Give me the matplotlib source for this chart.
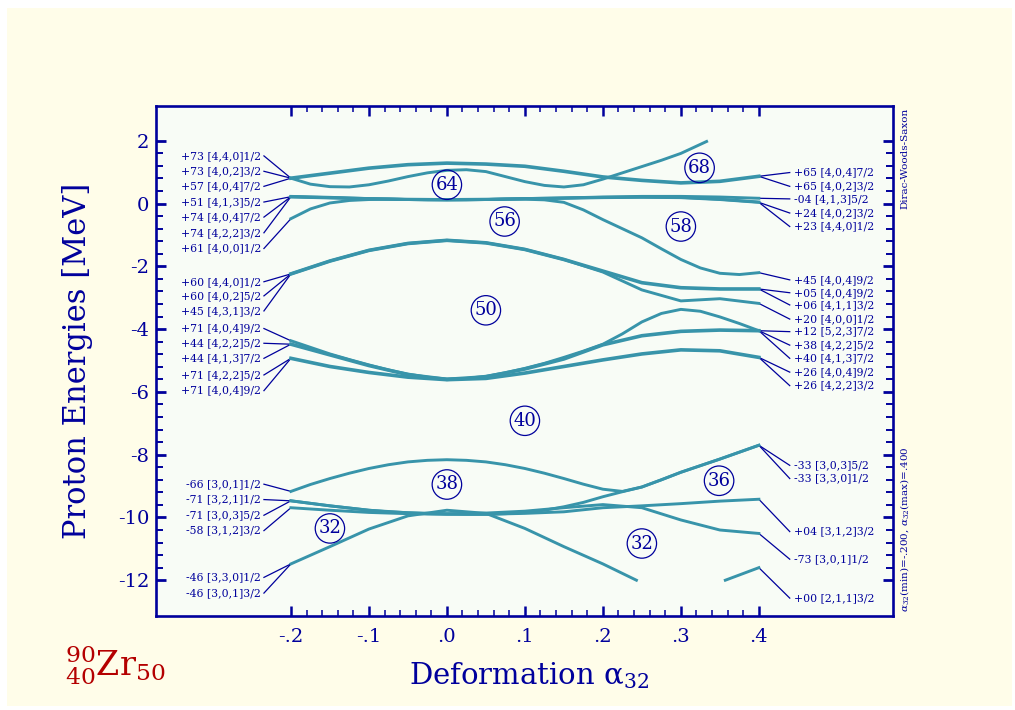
import numpy as np
import matplotlib.pyplot as plt
from matplotlib.patches import Rectangle
from matplotlib.ticker import FixedLocator, FixedFormatter

plt.rcParams['font.family'] = 'DejaVu Serif'
plt.rcParams['mathtext.fontset'] = 'dejavuserif'
plt.rcParams['axes.unicode_minus'] = False

NAVY = '#00009c'
TEAL = '#3894aa'
CREAM = '#fffde9'
PAPER = '#f8fcf6'
RED = '#b40000'

# deformation grids of the tabulated levels
alpha = [-0.2, -0.15, -0.1, -0.05, 0.0, 0.05, 0.1, 0.15, 0.2, 0.25, 0.3, 0.35, 0.4]
alpha_f = [-0.2, -0.175, -0.15, -0.125, -0.1, -0.075, -0.05, -0.025, 0.0, 0.025, 0.05,
           0.075, 0.1, 0.125, 0.15, 0.175, 0.2, 0.225, 0.25, 0.275, 0.3, 0.325, 0.35,
           0.375, 0.4]

# proton single particle levels [MeV]
e_top_a = [0.81, 0.97, 1.13, 1.24, 1.29, 1.26, 1.19, 1.03, 0.85, 0.74, 0.66, 0.71, 0.87]
alpha_top_b = [-0.2, -0.175, -0.15, -0.125, -0.1, -0.075, -0.05, -0.025, 0.0, 0.025, 0.05,
               0.075, 0.1, 0.125, 0.15, 0.175, 0.2, 0.225, 0.25, 0.275, 0.3, 0.333]
e_top_b = [0.81, 0.62, 0.54, 0.53, 0.6, 0.72, 0.86, 0.98, 1.06, 1.08, 1.02, 0.86, 0.7,
           0.58, 0.53, 0.6, 0.78, 0.98, 1.18, 1.38, 1.6, 1.98]
e_mid_1 = [0.21, 0.18, 0.15, 0.13, 0.12, 0.13, 0.16, 0.18, 0.21, 0.23, 0.23, 0.21, 0.17]
e_mid_2 = [0.23, 0.20, 0.16, 0.13, 0.12, 0.13, 0.15, 0.17, 0.19, 0.20, 0.19, 0.13, 0.04]
e_mid_3 = [0.22, 0.19, 0.16, 0.14, 0.13, 0.14, 0.16, 0.18, 0.20, 0.21, 0.20, 0.14, 0.05]
e_400 = [-0.48, -0.17, 0.02, 0.1, 0.13, 0.14, 0.13, 0.12, 0.12, 0.12, 0.13, 0.14, 0.14,
         0.12, 0.04, -0.2, -0.51, -0.8, -1.09, -1.44, -1.78, -2.05, -2.22, -2.26, -2.2]
e_g3_hi = [-2.24, -1.83, -1.49, -1.27, -1.17, -1.25, -1.46, -1.78, -2.15, -2.52, -2.68, -2.72, -2.72]
e_g3_lo = [-2.24, -1.83, -1.49, -1.27, -1.17, -1.25, -1.46, -1.78, -2.18, -2.75, -3.1, -3.03, -3.18]
e_g4_steep = [-4.37, -4.58, -4.79, -4.97, -5.14, -5.3, -5.43, -5.53, -5.59, -5.57, -5.5,
              -5.39, -5.25, -5.09, -4.9, -4.7, -4.48, -4.15, -3.77, -3.5, -3.37, -3.43,
              -3.61, -3.82, -4.05]
e_g4_flat = [-4.48, -4.82, -5.16, -5.45, -5.6, -5.52, -5.27, -4.95, -4.5, -4.21, -4.07, -4.03, -4.05]
e_g4_low = [-4.93, -5.19, -5.38, -5.53, -5.61, -5.57, -5.4, -5.19, -4.98, -4.79, -4.66, -4.69, -4.9]
e_g5_top = [-9.17, -8.95, -8.76, -8.59, -8.44, -8.32, -8.23, -8.18, -8.16, -8.18, -8.23,
            -8.32, -8.44, -8.59, -8.76, -8.94, -9.1, -9.17, -9.03, -8.8, -8.56, -8.35,
            -8.14, -7.92, -7.7]
e_g5_rise = [-9.47, -9.55, -9.63, -9.7, -9.77, -9.82, -9.85, -9.88, -9.89, -9.9, -9.9,
             -9.88, -9.84, -9.77, -9.66, -9.52, -9.34, -9.18, -9.03, -8.8, -8.56, -8.35,
             -8.14, -7.92, -7.7]
e_g5_down = [-9.47, -9.63, -9.77, -9.85, -9.88, -9.86, -9.8, -9.69, -9.59, -9.69, -10.08, -10.4, -10.51]
e_g5_flat = [-9.69, -9.77, -9.84, -9.88, -9.9, -9.9, -9.87, -9.82, -9.69, -9.63, -9.56, -9.48, -9.42]
alpha_g5_bot = [-0.2, -0.15, -0.1, -0.05, 0.0, 0.05, 0.1, 0.15, 0.2, 0.243]
e_g5_bot = [-11.48, -10.93, -10.37, -9.95, -9.77, -9.87, -10.35, -10.93, -11.48, -12.0]
alpha_211 = [0.357, 0.4]
e_211 = [-12.0, -11.6]

levels = [
    (alpha, e_top_a, 2), (alpha_top_b, e_top_b, 1),
    (alpha, e_mid_1, 1), (alpha, e_mid_2, 1), (alpha, e_mid_3, 1), (alpha_f, e_400, 1),
    (alpha, e_g3_hi, 2), (alpha, e_g3_lo, 1),
    (alpha_f, e_g4_steep, 1), (alpha, e_g4_flat, 2), (alpha, e_g4_low, 2),
    (alpha_f, e_g5_top, 1), (alpha_f, e_g5_rise, 1), (alpha, e_g5_down, 1), (alpha, e_g5_flat, 1),
    (alpha_g5_bot, e_g5_bot, 1), (alpha_211, e_211, 1),
]

# Nilsson labels: text, level energy at the edge
left_text = ['+73 [4,4,0]1/2', '+73 [4,0,2]3/2', '+57 [4,0,4]7/2', '+51 [4,1,3]5/2',
             '+74 [4,0,4]7/2', '+74 [4,2,2]3/2', '+61 [4,0,0]1/2',
             '+60 [4,4,0]1/2', '+60 [4,0,2]5/2', '+45 [4,3,1]3/2', '+71 [4,0,4]9/2',
             '+44 [4,2,2]5/2', '+44 [4,1,3]7/2', '+71 [4,2,2]5/2', '+71 [4,0,4]9/2',
             '-66 [3,0,1]1/2', '-71 [3,2,1]1/2', '-71 [3,0,3]5/2', '-58 [3,1,2]3/2',
             '-46 [3,3,0]1/2', '-46 [3,0,1]3/2']
left_e = [0.81, 0.81, 0.81, 0.22, 0.22, 0.22, -0.48,
          -2.24, -2.24, -2.24, -4.37, -4.48, -4.48, -4.93, -4.93,
          -9.17, -9.47, -9.47, -9.69, -11.48, -11.48]
right_text = ['+65 [4,0,4]7/2', '+65 [4,0,2]3/2', '-04 [4,1,3]5/2', '+24 [4,0,2]3/2',
              '+23 [4,4,0]1/2', '+45 [4,0,4]9/2', '+05 [4,0,4]9/2', '+06 [4,1,1]3/2',
              '+20 [4,0,0]1/2', '+12 [5,2,3]7/2', '+38 [4,2,2]5/2', '+40 [4,1,3]7/2',
              '+26 [4,0,4]9/2', '+26 [4,2,2]3/2', '-33 [3,0,3]5/2', '-33 [3,3,0]1/2',
              '+04 [3,1,2]3/2', '-73 [3,0,1]1/2', '+00 [2,1,1]3/2']
right_e = [0.87, 0.87, 0.17, 0.04, 0.04, -2.2, -2.72, -2.72, -3.18,
           -4.05, -4.05, -4.05, -4.9, -4.9, -7.7, -7.7, -9.42, -10.51, -11.6]

# label placement (vertical position of each text)
left_pos = [1.52, 1.03, 0.55, 0.05, -0.43, -0.93, -1.43,
            -2.49, -2.94, -3.42, -3.98, -4.45, -4.93, -5.46, -5.96,
            -8.94, -9.43, -9.93, -10.42, -11.91, -12.41]
right_pos = [0.99, 0.55, 0.15, -0.30, -0.73, -2.43, -2.84, -3.23, -3.68,
             -4.08, -4.51, -4.93, -5.37, -5.80, -8.34, -8.76, -10.45, -11.33, -12.57]

# magic gaps
gap_n = ['64', '56', '58', '68', '50', '40', '38', '36', '32', '32']
gap_x = [0.0, 0.074, 0.3, 0.324, 0.05, 0.1, 0.0, 0.349, -0.15, 0.25]
gap_e = [0.6, -0.57, -0.73, 1.14, -3.4, -6.92, -8.95, -8.83, -10.35, -10.83]

xticks = [-0.2, -0.1, 0.0, 0.1, 0.2, 0.3, 0.4]
xtick_labels = ['-.2', '-.1', '.0', '.1', '.2', '.3', '.4']
yticks = [-12, -10, -8, -6, -4, -2, 0, 2]

fig = plt.figure(figsize=(10.15, 7.1), dpi=100)
fig.patch.set_facecolor('white')
fig.patches.append(Rectangle((7 / 1015, 4 / 710), 1005 / 1015, 698 / 710,
                             transform=fig.transFigure, fc=CREAM, ec='none', zorder=-10))

ax = fig.add_axes([156 / 1015, 94 / 710, 737 / 1015, 510 / 710], facecolor=PAPER)
ax.set_xlim(-0.373, 0.572)
ax.set_ylim(-13.14, 3.11)

for xs, es, mult in levels:
    ax.plot(xs, es, color=TEAL, lw=2.1 + 0.5 * (mult - 1), solid_joinstyle='round', zorder=3)

for txt, e, pos in zip(left_text, left_e, left_pos):
    ax.plot([-0.2346, -0.2], [pos, e], color=NAVY, lw=0.9, zorder=2)
    ax.text(-0.2385, pos, txt, ha='right', va='center', fontsize=7.8, color=NAVY)

for txt, e, pos in zip(right_text, right_e, right_pos):
    ax.plot([0.4, 0.4396], [e, pos], color=NAVY, lw=0.9, zorder=2)
    ax.text(0.4445, pos, txt, ha='left', va='center', fontsize=7.8, color=NAVY)

for n, x, e in zip(gap_n, gap_x, gap_e):
    ax.text(x, e, n, ha='center', va='center', fontsize=13, color=NAVY, zorder=4,
            bbox=dict(boxstyle='circle,pad=0.18', fc='none', ec=NAVY, lw=0.9))

for sp in ax.spines.values():
    sp.set_color(NAVY)
    sp.set_linewidth(1.9)

ax.xaxis.set_major_locator(FixedLocator(xticks))
ax.xaxis.set_major_formatter(FixedFormatter(xtick_labels))
ax.xaxis.set_minor_locator(FixedLocator(np.arange(-0.2, 0.401, 0.02)))
ax.yaxis.set_major_locator(FixedLocator(yticks))
ax.yaxis.set_minor_locator(FixedLocator(np.arange(-12, 2.01, 0.4)))
ax.tick_params(which='both', direction='in', top=True, right=True, color=NAVY,
               labelcolor=NAVY, labelsize=14)
ax.tick_params(axis='x', which='major', length=7, width=1.8, pad=9)
ax.tick_params(axis='x', which='minor', length=4.5, width=1.1)
ax.tick_params(axis='y', which='major', length=7, width=2.0, pad=5)
ax.tick_params(axis='y', which='minor', length=5, width=1.4)

ax.set_xlabel('Deformation α$_{32}$', fontsize=21, color=NAVY)
ax.set_ylabel('Proton Energies [MeV]', fontsize=22, color=NAVY)
ax.xaxis.label.set_va('center')
ax.yaxis.label.set_va('center')
ax.xaxis.set_label_coords(0.506, -0.116)
ax.yaxis.set_label_coords(-0.107, 0.5)

ax.text(1.016, 0.996, 'Dirac-Woods-Saxon', transform=ax.transAxes, rotation=90,
        ha='center', va='top', fontsize=7.5, color=NAVY)
ax.text(1.016, 0.008, r'$\alpha_{32}$(min)=-.200, $\alpha_{32}$(max)=.400',
        transform=ax.transAxes, rotation=90, ha='center', va='bottom', fontsize=7.5, color=NAVY)

fig.text(65 / 1015, 45 / 710, r'$^{90}_{40}$Zr$_{50}$', fontsize=24, color=RED,
         ha='left', va='center')

fig.savefig('out.png', dpi=100, facecolor=fig.get_facecolor())
